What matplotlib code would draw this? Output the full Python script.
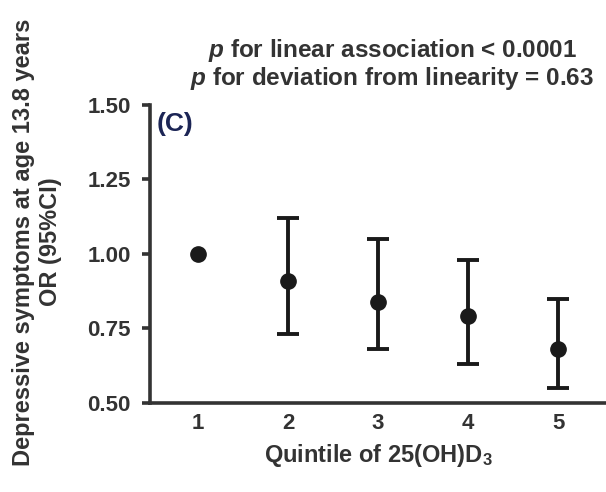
import numpy as np
import matplotlib.pyplot as plt

plt.rcParams['font.family'] = ['Liberation Sans', 'DejaVu Sans']
plt.rcParams['font.weight'] = 'bold'
plt.rcParams['axes.labelweight'] = 'bold'
plt.rcParams['mathtext.fontset'] = 'custom'
plt.rcParams['mathtext.rm'] = 'Liberation Sans:bold'
plt.rcParams['mathtext.it'] = 'Liberation Sans:bold:italic'
plt.rcParams['mathtext.bf'] = 'Liberation Sans:bold'

# Data: odds ratio with 95% CI by quintile of 25(OH)D3
quintiles = [1, 2, 3, 4, 5]
odds_ratio = [1.00, 0.91, 0.84, 0.79, 0.68]
ci_low = [1.00, 0.73, 0.68, 0.63, 0.55]
ci_high = [1.00, 1.12, 1.05, 0.98, 0.85]
tick_labels = ['1', '2', '3', '4', '5']

q = np.array(quintiles)
or_arr = np.array(odds_ratio)
lo = np.array(ci_low)
hi = np.array(ci_high)
has_ci = hi > lo  # reference group has no interval
err = np.vstack([or_arr - lo, hi - or_arr])

fig = plt.figure(figsize=(6.06, 4.92), dpi=100)
ax = fig.add_axes([0.2475, 0.181, 0.7525, 0.606])

txt_color = '#333333'
mark_color = '#1a1a1a'

ax.errorbar(q[has_ci], or_arr[has_ci], yerr=err[:, has_ci], fmt='o', color=mark_color,
            markersize=11, elinewidth=2.8, capsize=8, capthick=2.8)
ax.plot(q[~has_ci], or_arr[~has_ci], 'o', color=mark_color, markersize=11)

ax.set_xlim(0.467, 5.533)
ax.set_ylim(0.5, 1.5)
ax.set_yticks([0.50, 0.75, 1.00, 1.25, 1.50])
ax.set_yticklabels(['0.50', '0.75', '1.00', '1.25', '1.50'])
ax.set_xticks(quintiles)
ax.set_xticklabels(tick_labels)

for s in ['top', 'right']:
    ax.spines[s].set_visible(False)
for s in ['left', 'bottom']:
    ax.spines[s].set_linewidth(2.6)
    ax.spines[s].set_color('#333333')

ax.tick_params(axis='y', length=6, width=2.6, color='#333333', labelsize=16,
               labelcolor=txt_color, pad=8)
ax.tick_params(axis='x', length=0, labelsize=16, labelcolor=txt_color, pad=7)

ax.set_xlabel('Quintile of 25(OH)D$_3$', fontsize=17, color=txt_color, labelpad=6)

# two-line y label
fig.text(0.038, 0.508, 'Depressive symptoms at age 13.8 years', rotation=90,
         ha='center', va='center', fontsize=17, color=txt_color)
fig.text(0.083, 0.508, 'OR (95%CI)', rotation=90,
         ha='center', va='center', fontsize=17, color=txt_color)

ax.text(0.014, 0.975, '(C)', transform=ax.transAxes, fontsize=19, fontweight='bold',
        color='#1c2555', va='top', ha='left')

fig.text(0.647, 0.898, '$\\it{p}$ for linear association < 0.0001', ha='center', va='center',
         fontsize=17.5, color=txt_color)
fig.text(0.647, 0.841, '$\\it{p}$ for deviation from linearity = 0.63', ha='center', va='center',
         fontsize=17.5, color=txt_color)

fig.savefig('out.png', dpi=100)
